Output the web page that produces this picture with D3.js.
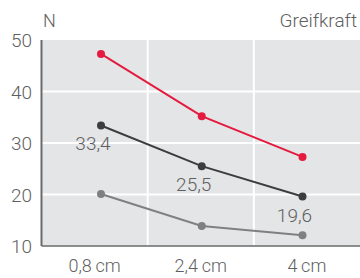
<!DOCTYPE html>
<html>
<head>
<meta charset="utf-8">
<script src="https://cdn.jsdelivr.net/npm/d3@7/dist/d3.min.js"></script>
<style>
  body { margin: 0; background: #fff; }
  text { font-family: Roboto, "DejaVu Sans", sans-serif; font-weight: 300; fill: #5f5f5f; }
</style>
</head>
<body>
<div class="chart"></div>
<script>
var categories = ["0,8\u2009cm", "2,4\u2009cm", "4\u2009cm"]
var yTicks = [10, 20, 30, 40, 50]
var redSeries = [47.3, 35.2, 27.3]
var darkSeries = [33.4, 25.5, 19.6]
var greySeries = [20.1, 13.9, 12.1]
var darkLabels = ["33,4", "25,5", "19,6"]

var series = [
    {values: greySeries, color: "#808080"},
    {values: darkSeries, color: "#3d3d3f"},
    {values: redSeries, color: "#e41a3f"}
]

var svg = d3.select(".chart")
    .append("svg")
    .attr("width", 360)
    .attr("height", 278)

var y = d3.scaleLinear().domain([10, 50]).range([246, 40])
var band = d3.scaleBand().domain(categories).range([41.5, 360])
var x = d3.scalePoint().domain(categories).range([101, 302.5])

svg.append("rect")
    .attr("x", 41.5)
    .attr("y", y(50))
    .attr("width", 360 - 41.5)
    .attr("height", y(10) - y(50))
    .attr("fill", "#e4e5e7")

// gridlines
svg.selectAll(".hgrid")
    .data(yTicks.filter(function(d) { return d > 10 && d < 50 }))
    .enter().append("line")
    .attr("x1", 41.5)
    .attr("x2", 360)
    .attr("y1", function(d) { return y(d) })
    .attr("y2", function(d) { return y(d) })
    .attr("stroke", "#fff")
    .attr("stroke-width", 2)

svg.selectAll(".vgrid")
    .data(categories.slice(1))
    .enter().append("line")
    .attr("x1", function(d) { return band(d) })
    .attr("x2", function(d) { return band(d) })
    .attr("y1", y(50))
    .attr("y2", y(10))
    .attr("stroke", "#fff")
    .attr("stroke-width", 2)

// axes
svg.append("line")
    .attr("x1", 41.5).attr("x2", 360)
    .attr("y1", y(10)).attr("y2", y(10))
    .attr("stroke", "#6a6a6a")
    .attr("stroke-width", 1.5)

svg.append("line")
    .attr("x1", 41.5).attr("x2", 41.5)
    .attr("y1", y(50)).attr("y2", y(10))
    .attr("stroke", "#6a6a6a")
    .attr("stroke-width", 2)

svg.selectAll(".ytick")
    .data(yTicks)
    .enter().append("text")
    .attr("x", 32)
    .attr("y", function(d) { return y(d) + 7 })
    .attr("text-anchor", "end")
    .style("font-size", "19px")
    .text(function(d) { return d })

svg.selectAll(".xtick")
    .data(categories)
    .enter().append("text")
    .attr("x", function(d) { return band(d) + band.bandwidth() / 2 })
    .attr("y", 272)
    .attr("text-anchor", "middle")
    .style("font-size", "18px")
    .text(function(d) { return d })

svg.append("text")
    .attr("x", 43)
    .attr("y", 27)
    .style("font-size", "18px")
    .text("N")

svg.append("text")
    .attr("x", 357)
    .attr("y", 27)
    .attr("text-anchor", "end")
    .style("font-size", "19px")
    .text("Greifkraft")

// lines and markers
var line = d3.line()
    .x(function(d, i) { return x(categories[i]) })
    .y(function(d) { return y(d) })

var group = svg.selectAll(".series")
    .data(series)
    .enter().append("g")
    .attr("class", "series")

group.append("path")
    .attr("d", function(d) { return line(d.values) })
    .attr("fill", "none")
    .attr("stroke", function(d) { return d.color })
    .attr("stroke-width", 2)

group.selectAll("circle")
    .data(function(d) { return d.values.map(function(v) { return {v: v, color: d.color} }) })
    .enter().append("circle")
    .attr("cx", function(d, i) { return x(categories[i]) })
    .attr("cy", function(d) { return y(d.v) })
    .attr("r", 4)
    .attr("fill", function(d) { return d.color })

svg.selectAll(".valueLabel")
    .data(darkSeries)
    .enter().append("text")
    .attr("x", function(d, i) { return x(categories[i]) - 8 })
    .attr("y", function(d) { return y(d) + 25 })
    .attr("text-anchor", "middle")
    .style("font-size", "19px")
    .text(function(d, i) { return darkLabels[i] })
</script>
</body>
</html>
